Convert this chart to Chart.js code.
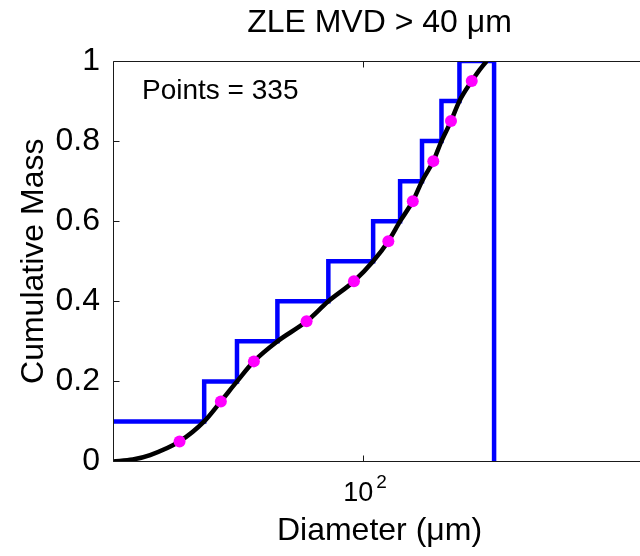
<!DOCTYPE html>
<html>
<head>
<meta charset="utf-8">
<title>ZLE MVD &gt; 40 μm</title>
<script src="https://cdn.jsdelivr.net/npm/chart.js@4.4.1/dist/chart.umd.min.js"></script>
<style>
  html, body { margin: 0; padding: 0; background: #fff; }
  /* the figure is cropped on the right, like the original (right axis falls off) */
  .wrap { width: 640px; height: 556px; overflow: hidden; }
  canvas { display: block; }
</style>
</head>
<body>
<div class="wrap"><canvas id="cdfChart" width="700" height="556"></canvas></div>
<script>
// ---------- Data ----------
// stairs: cumulative mass per diameter bin (µm)
const stepDiam = [40, 55.8, 62.9, 72.9, 87.8, 103.4, 114.1, 123.6, 132.7, 141.7, 160.8, 160.8];
const stepMass = [0.1, 0.2, 0.3, 0.4, 0.5, 0.6, 0.7, 0.8, 0.9, 1.0, 1.0, 0];

// smooth fit through the bin corners
const fitDiam = [40, 43.0, 45.8, 51.0, 55.8, 59.3, 62.9, 66.9, 72.9, 81.1, 87.8, 96.4,
                 103.4, 109.3, 114.1, 119.5, 123.6, 128.8, 132.7, 137.4, 141.7, 148.2, 150.9, 156.5];
const fitMass = [0, 0.005, 0.016, 0.05, 0.1, 0.15, 0.2, 0.25, 0.3, 0.35, 0.4, 0.45,
                 0.5, 0.55, 0.6, 0.65, 0.7, 0.75, 0.8, 0.85, 0.9, 0.95, 0.968, 1.0];

// 5%, 15%, ... 95% markers
const dotDiam = [51.0, 59.3, 66.9, 81.1, 96.4, 109.3, 119.5, 128.8, 137.4, 148.2];
const dotMass = [0.05, 0.15, 0.25, 0.35, 0.45, 0.55, 0.65, 0.75, 0.85, 0.95];

const xTicks = [100];
const yTicks = [0, 0.2, 0.4, 0.6, 0.8, 1];
const pointsCount = 335;

(() => {
  "use strict";

  const FONT = '"Liberation Sans", Arial, Helvetica, sans-serif';
  const AXIS = "#1a1a1a";
  const TICK_LEN = 6;

  const xy = (xs, ys) => xs.map((x, i) => ({ x, y: ys[i] }));
  const crisp = (v) => Math.floor(v) + 0.5;

  // box + inward ticks, superscript decade labels, "Points = N"
  const matlabAxes = {
    id: "matlabAxes",
    afterDraw(chart) {
      const { ctx, chartArea: a } = chart;
      const sx = chart.scales.x;
      const sy = chart.scales.y;
      const L = crisp(a.left), R = crisp(a.right), T = crisp(a.top), B = crisp(a.bottom);

      ctx.save();
      ctx.strokeStyle = AXIS;
      ctx.lineWidth = 1;
      ctx.beginPath();
      ctx.rect(L, T, R - L, B - T);

      sy.ticks.forEach((t) => {
        const py = crisp(sy.getPixelForValue(t.value));
        ctx.moveTo(L, py); ctx.lineTo(L + TICK_LEN, py);
        ctx.moveTo(R, py); ctx.lineTo(R - TICK_LEN, py);
      });
      sx.ticks.forEach((t) => {
        const px = crisp(sx.getPixelForValue(t.value));
        ctx.moveTo(px, B); ctx.lineTo(px, B - TICK_LEN);
        ctx.moveTo(px, T); ctx.lineTo(px, T + TICK_LEN);
      });
      ctx.stroke();

      // 10^n labels
      ctx.fillStyle = "#000";
      ctx.textBaseline = "alphabetic";
      ctx.textAlign = "left";
      sx.ticks.forEach((t) => {
        const px = sx.getPixelForValue(t.value);
        const exp = String(Math.round(Math.log10(t.value)));
        ctx.font = `27px ${FONT}`;
        const wb = ctx.measureText("10").width;
        ctx.font = `19px ${FONT}`;
        const we = ctx.measureText(exp).width;
        const x0 = px - (wb + 3 + we) / 2 + 1;
        ctx.font = `27px ${FONT}`;
        ctx.fillText("10", x0, a.bottom + 39);
        ctx.font = `19px ${FONT}`;
        ctx.fillText(exp, x0 + wb + 3, a.bottom + 26.5);
      });

      ctx.font = `28px ${FONT}`;
      ctx.fillText(`Points = ${pointsCount}`, a.left + 29, a.top + 38);
      ctx.restore();
    },
  };

  const ctx = document.getElementById("cdfChart").getContext("2d");

  new Chart(ctx, {
    type: "line",
    data: {
      datasets: [
        {
          label: "percentiles",
          data: xy(dotDiam, dotMass),
          showLine: false,
          pointRadius: 6,
          pointBorderWidth: 0,
          pointBackgroundColor: "#ff00ff",
          pointHoverRadius: 6,
        },
        {
          label: "fit",
          data: xy(fitDiam, fitMass),
          borderColor: "#000",
          borderWidth: 4.5,
          cubicInterpolationMode: "monotone",
          pointRadius: 0,
          fill: false,
        },
        {
          label: "bins",
          data: xy(stepDiam, stepMass),
          borderColor: "#0000ff",
          borderWidth: 4.5,
          stepped: "before",
          pointRadius: 0,
          fill: false,
        },
      ],
    },
    options: {
      responsive: false,
      devicePixelRatio: 1,
      animation: false,
      events: [],
      layout: { padding: { left: 0, right: 54, top: 0, bottom: 0 } },
      plugins: {
        legend: { display: false },
        tooltip: { enabled: false },
        title: {
          display: true,
          fullSize: false,
          text: "ZLE MVD > 40 μm",
          color: "#000",
          font: { family: FONT, size: 32, weight: "normal", lineHeight: 1.2 },
          padding: { top: 3.5, bottom: 19.1 },
        },
      },
      scales: {
        x: {
          type: "logarithmic",
          min: 40,
          max: 280,
          grid: { display: false, drawTicks: false },
          border: { display: false },
          ticks: { display: false },
          afterBuildTicks: (s) => { s.ticks = xTicks.map((v) => ({ value: v })); },
          afterFit: (s) => { s.height = 94.5; },
          title: {
            display: true,
            text: "Diameter (μm)",
            color: "#000",
            font: { family: FONT, size: 32, weight: "normal", lineHeight: 1.2 },
            padding: { top: 0, bottom: 5.3 },
          },
        },
        y: {
          min: 0,
          max: 1,
          grid: { display: false, drawTicks: false },
          border: { display: false },
          afterBuildTicks: (s) => { s.ticks = yTicks.map((v) => ({ value: v })); },
          ticks: {
            padding: 13,
            color: "#000",
            font: { family: FONT, size: 32 },
            callback: (v) => String(v),
          },
          afterFit: (s) => { s.width = 113; },
          title: {
            display: true,
            text: "Cumulative Mass",
            color: "#000",
            font: { family: FONT, size: 32, weight: "normal", lineHeight: 1.2 },
            padding: { top: 15, bottom: 0 },
          },
        },
      },
    },
    plugins: [matlabAxes],
  });
})();
</script>
</body>
</html>
